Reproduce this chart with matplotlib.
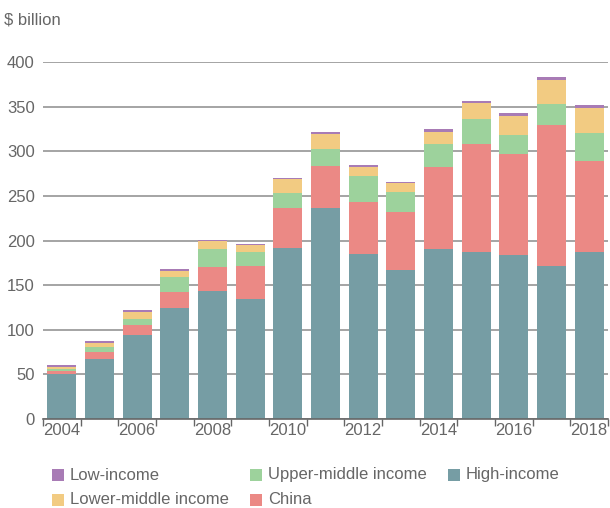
import matplotlib
matplotlib.use('Agg')
import matplotlib.pyplot as plt
import numpy as np
from matplotlib.patches import Rectangle

years = list(range(2004, 2019))
high_income = [50, 67, 94, 124, 144, 135, 192, 237, 185, 167, 190, 187, 184, 172, 187]
china = [3.5, 8, 11, 18, 26, 37, 45, 47, 58, 65, 92, 121, 113, 157, 102]
upper_middle = [2.3, 6, 7, 17, 20, 15, 16.5, 19, 29.5, 22, 26, 28, 21, 24, 31]
lower_middle = [2.2, 4, 8, 7, 9, 7.5, 15, 16.5, 10, 10, 14, 18, 22, 27, 29]
low_income = [2.3, 2, 2, 2, 1.5, 1.5, 2, 2, 2, 2, 3, 2, 2.5, 3, 3]

series = [
    ('High-income', high_income, '#769da4'),
    ('China', china, '#eb8985'),
    ('Upper-middle income', upper_middle, '#9dd29c'),
    ('Lower-middle income', lower_middle, '#f2cb82'),
    ('Low-income', low_income, '#a87bb5'),
]

plt.rcParams['font.family'] = ['Liberation Sans', 'DejaVu Sans']
text_color = '#666666'

fig = plt.figure(figsize=(6.1, 5.08), dpi=100)
ax = fig.add_axes([0.0705, 0.175, 0.926, 0.703])

x = np.arange(len(years))
bottom = np.zeros(len(years))
for name, vals, color in series:
    ax.bar(x, vals, bottom=bottom, width=0.77, color=color, label=name, zorder=3)
    bottom += np.array(vals)

ax.set_ylim(0, 400)
ax.set_xlim(-0.5, len(years) - 0.5)
ax.set_yticks(range(0, 401, 50))
ax.yaxis.grid(True, color='#8c8c8c', linewidth=1.1, zorder=0)
ax.tick_params(axis='y', length=0, labelsize=12, labelcolor=text_color, pad=6)

ax.set_xticks(np.arange(-0.5, len(years), 1.0))
ax.set_xticklabels([])
ax.set_xticks(x[::2], minor=True)
ax.set_xticklabels([str(y) for y in years[::2]], minor=True)
ax.tick_params(axis='x', which='major', length=5, color='#666666', width=1)
ax.tick_params(axis='x', which='minor', length=0, labelsize=12, labelcolor=text_color, pad=3)

for s in ['top', 'right', 'left']:
    ax.spines[s].set_visible(False)
ax.spines['bottom'].set_color('#666666')
ax.spines['bottom'].set_linewidth(1.2)
ax.spines['bottom'].set_zorder(4)

fig.text(4 / 610, 1 - 20 / 508, '$ billion', fontsize=12, color=text_color, va='center', ha='left')

# legend laid out in three columns like the original
legend_items = [
    ('Low-income', 52, 475),
    ('Lower-middle income', 52, 500),
    ('Upper-middle income', 250, 475),
    ('China', 250, 500),
    ('High-income', 448, 475),
]
colors = {n: c for n, _, c in series}
W, H = 610, 508
for name, px, py in legend_items:
    sq = 12
    fig.add_artist(Rectangle((px / W, (H - py - sq / 2) / H), sq / W, sq / H,
                             transform=fig.transFigure, facecolor=colors[name], edgecolor='none'))
    fig.text((px + sq + 6) / W, (H - py) / H, name, fontsize=12, color=text_color,
             va='center', ha='left')

fig.savefig('out.png', dpi=100)
